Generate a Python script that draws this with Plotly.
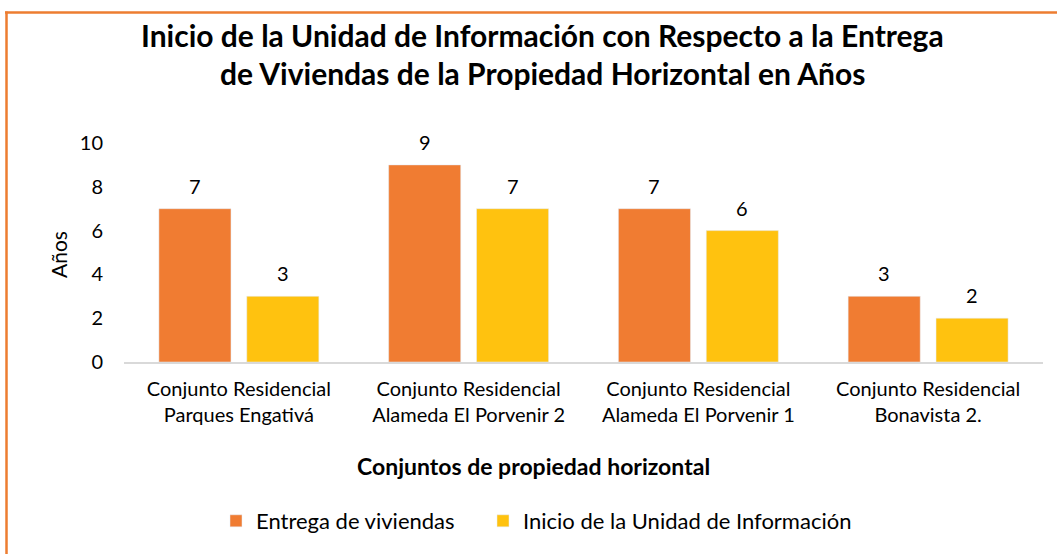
import plotly.graph_objects as go

categories = ["Conjunto Residencial<br>Parques Engativá",
              "Conjunto Residencial<br>Alameda El Porvenir 2",
              "Conjunto Residencial<br>Alameda El Porvenir 1",
              "Conjunto Residencial<br>Bonavista 2."]
entrega = [7, 9, 7, 3]
inicio = [3, 7, 6, 2]
series_names = ["Entrega de viviendas", "Inicio de la Unidad de Información"]
y_ticks = [0, 2, 4, 6, 8, 10]

W, H = 1057, 554
L, R, T, B = 124, 14, 143, 192
pw, ph = W - L - R, H - T - B

def px(x):
    return (x - L) / pw

def py(y):
    return (H - B - y) / ph

FONT = "Lato"
ORANGE = "#F07C32"
YELLOW = "#FFC20F"

fig = go.Figure()
fig.add_bar(x=categories, y=entrega, name=series_names[0], marker_color=ORANGE, legend="legend")
fig.add_bar(x=categories, y=inicio, name=series_names[1], marker_color=YELLOW, legend="legend2")

annotations = []
for vals, shift in ((entrega, -44), (inicio, 44)):
    for c, v in zip(categories, vals):
        annotations.append(dict(x=c, y=v, xref="x", yref="y", text=str(v), showarrow=False,
                                xanchor="center", yanchor="middle",
                                xshift=shift, yshift=23, font=dict(family=FONT, size=20, color="#000")))

annotations += [
    dict(x=px(542), y=py(35), xref="paper", yref="paper", showarrow=False,
         xanchor="center", yanchor="middle",
         text="<b>Inicio de la Unidad de Información con Respecto a la Entrega</b>",
         font=dict(family=FONT, size=30, color="#000")),
    dict(x=px(542), y=py(73), xref="paper", yref="paper", showarrow=False,
         xanchor="center", yanchor="middle",
         text="<b>de Viviendas de la Propiedad Horizontal en Años</b>",
         font=dict(family=FONT, size=30, color="#000")),
    dict(x=px(533), y=py(466), xref="paper", yref="paper", showarrow=False,
         xanchor="center", yanchor="middle",
         text="<b>Conjuntos de propiedad horizontal</b>",
         font=dict(family=FONT, size=23, color="#000")),
    dict(x=px(58), y=py(255), xref="paper", yref="paper", showarrow=False, textangle=-90,
         xanchor="center", yanchor="middle",
         text="Años", font=dict(family=FONT, size=21, color="#000")),
]

shapes = [
    dict(type="line", xref="paper", yref="paper", x0=px(5), x1=px(1057), y0=py(12.5), y1=py(12.5),
         line=dict(color="#ED7D31", width=2.5)),
    dict(type="line", xref="paper", yref="paper", x0=px(6.5), x1=px(6.5), y0=py(11.5), y1=py(560),
         line=dict(color="#ED7D31", width=2.5)),
]

legend_common = dict(orientation="h", yanchor="middle", xanchor="left", y=py(521),
                     font=dict(family=FONT, size=22, color="#000"), bgcolor="rgba(0,0,0,0)")

fig.update_layout(
    width=W, height=H,
    margin=dict(l=L, r=R, t=T, b=B, pad=0),
    paper_bgcolor="white", plot_bgcolor="white",
    barmode="group", bargap=0.235, bargroupgap=0.18,
    font=dict(family=FONT, size=18, color="#000"),
    showlegend=True,
    legend=dict(x=px(216), **legend_common),
    legend2=dict(x=px(483), **legend_common),
    annotations=annotations,
    shapes=shapes,
)
fig.update_xaxes(showline=True, linecolor="#D9D9D9", linewidth=2, ticks="",
                 tickfont=dict(family=FONT, size=20, color="#000"), showgrid=False,
                 ticklabelstandoff=8)
fig.update_yaxes(range=[0, 10], tickvals=y_ticks, showgrid=False, zeroline=False, showline=False,
                 tickfont=dict(family=FONT, size=20, color="#000"), ticklabelstandoff=20)

fig.write_html("out.html")
